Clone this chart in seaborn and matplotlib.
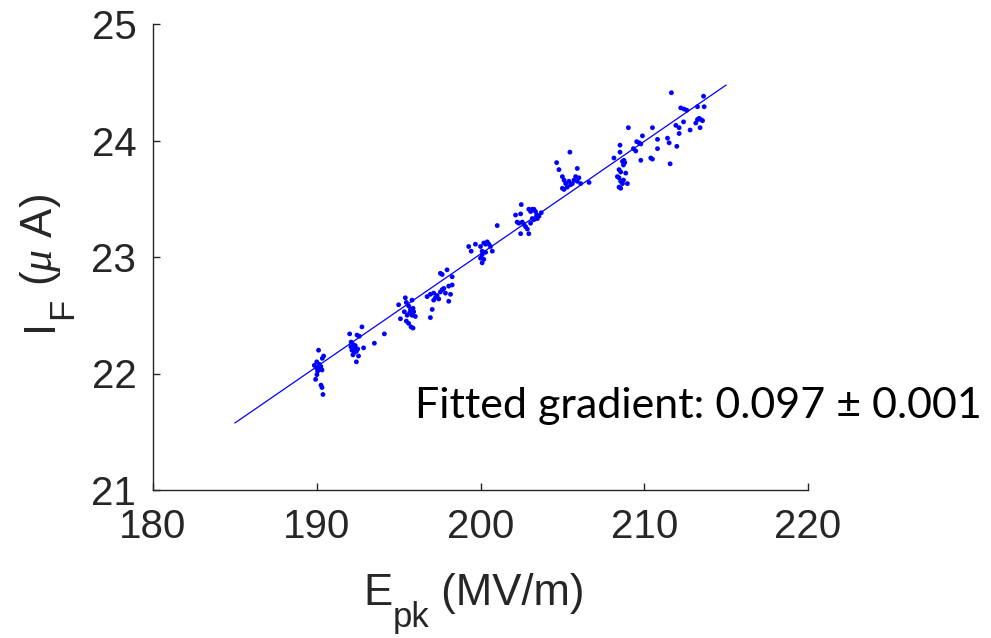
import numpy as np
import pandas as pd
import matplotlib
matplotlib.use("Agg")
import matplotlib.pyplot as plt
import seaborn as sns

# ---------------- data ----------------
E_pk = [
    # ~190
    190.11, 190.42, 190.34, 189.85, 189.97, 190.17, 190.32, 190.05, 190.01, 189.93,
    190.26, 190.32, 190.38, 190.15, 190.25, 190.00,
    # ~192.3
    192.01, 192.76, 192.46, 192.60, 192.09, 192.21, 192.29, 192.15, 192.42, 192.29,
    192.55, 192.42, 192.86, 193.52, 194.13, 192.21, 192.35, 192.50, 192.10,
    # ~195.7
    195.00, 195.41, 195.47, 195.82, 195.35, 195.61, 195.72, 195.88, 195.92, 195.67,
    195.52, 195.82, 196.02, 195.47, 195.61, 195.76, 195.88, 195.11, 197.05, 196.94,
    # ~197.5
    196.74, 196.94, 197.14, 197.25, 197.35, 197.45, 197.55, 197.66, 197.76, 197.86,
    198.06, 198.27, 198.17, 198.06, 197.55, 197.66, 197.96, 198.27, 197.14,
    # ~200.3
    199.28, 199.43, 199.69, 200.00, 200.10, 200.20, 200.31, 200.41, 200.51, 200.61,
    200.31, 200.10, 200.00, 200.20, 200.10, 200.72, 201.02,
    # ~202.8
    202.14, 202.45, 202.49, 202.24, 202.34, 202.55, 202.65, 202.75, 202.95, 203.06,
    203.16, 203.26, 203.36, 203.43, 203.16, 203.26, 203.47, 203.57, 203.71, 202.45,
    202.95, 203.06, 202.86,
    # ~205.5
    204.65, 204.79, 205.46, 205.00, 205.10, 205.20, 205.30, 205.00, 205.10, 205.40,
    205.50, 205.61, 205.71, 205.81, 205.91, 205.91, 206.01, 206.12, 206.63,
    # ~208.7
    208.15, 208.52, 208.52, 208.67, 208.76, 208.81, 208.73, 208.46, 208.56, 208.87,
    208.36, 208.46, 208.56, 208.67, 208.46, 208.56, 208.97, 208.73,
    # 209 - 214
    209.03, 209.34, 209.48, 209.54, 209.68, 209.79, 209.89, 209.79, 210.40, 210.50,
    210.50, 210.81, 210.81, 211.42, 211.52, 211.58, 211.66, 211.99, 211.93, 212.13,
    212.13, 212.40, 212.23, 212.43, 212.60, 212.80, 213.15, 213.25, 213.35, 213.46,
    213.56, 213.41, 213.25, 213.66, 213.62,
]
I_F = [
    22.20, 22.15, 22.13, 22.07, 22.05, 22.04, 22.03, 22.02, 21.99, 21.95,
    21.90, 21.88, 21.82, 22.08, 22.06, 22.10,
    22.34, 22.40, 22.33, 22.32, 22.23, 22.25, 22.22, 22.20, 22.19, 22.18,
    22.15, 22.10, 22.22, 22.26, 22.34, 22.16, 22.24, 22.21, 22.27,
    22.59, 22.65, 22.61, 22.63, 22.53, 22.58, 22.55, 22.56, 22.53, 22.52,
    22.50, 22.50, 22.49, 22.45, 22.43, 22.40, 22.39, 22.47, 22.55, 22.48,
    22.66, 22.68, 22.69, 22.65, 22.67, 22.64, 22.70, 22.72, 22.73, 22.69,
    22.75, 22.76, 22.68, 22.62, 22.86, 22.85, 22.89, 22.83, 22.63,
    23.09, 23.05, 23.11, 23.09, 23.05, 23.12, 23.11, 23.13, 23.11, 23.09,
    23.04, 23.02, 22.99, 22.98, 22.95, 23.05, 23.27,
    23.36, 23.37, 23.45, 23.30, 23.29, 23.30, 23.28, 23.26, 23.41, 23.39,
    23.41, 23.41, 23.39, 23.36, 23.33, 23.32, 23.33, 23.35, 23.38, 23.20,
    23.20, 23.29, 23.24,
    23.81, 23.75, 23.90, 23.69, 23.66, 23.63, 23.60, 23.59, 23.58, 23.65,
    23.62, 23.63, 23.66, 23.69, 23.76, 23.65, 23.68, 23.63, 23.64,
    23.85, 23.96, 23.90, 23.82, 23.83, 23.81, 23.79, 23.75, 23.73, 23.72,
    23.69, 23.68, 23.65, 23.63, 23.60, 23.59, 23.63, 23.66,
    24.11, 23.93, 23.91, 23.99, 23.98, 23.97, 24.04, 23.83, 23.85, 23.84,
    24.11, 24.01, 23.93, 24.02, 23.98, 23.80, 24.41, 23.95, 24.13, 24.11,
    24.06, 24.16, 24.28, 24.27, 24.26, 24.09, 24.15, 24.18, 24.19, 24.18,
    24.17, 24.11, 24.29, 24.29, 24.38,
]

# linear fit parameters (as shown)
fit_range = [185.0, 215.0]
fit_slope = 0.0967
fit_at_185 = 21.575

x_ticks = [180, 190, 200, 210, 220]
y_ticks = [21, 22, 23, 24, 25]
annotation = "Fitted gradient: 0.097 \u00b1 0.001"
xlabel_parts = ["E", "pk", " (MV/m)"]
ylabel_parts = ["I", "F", r" ($\mu$ A)"]

# ---------------- plotting ----------------
sns.set_theme(style="white")
plt.rcParams["font.family"] = ["Liberation Sans", "DejaVu Sans"]
plt.rcParams["mathtext.fontset"] = "custom"
plt.rcParams["mathtext.rm"] = "Liberation Sans"
plt.rcParams["mathtext.it"] = "Liberation Serif:italic"

W, H = 991, 638
fig = plt.figure(figsize=(W / 100, H / 100), dpi=100)
ax = fig.add_axes([153 / W, 1 - 490 / H, (808 - 153) / W, (490 - 24) / H])

df = pd.DataFrame({"E": E_pk, "I": I_F})
sns.scatterplot(data=df, x="E", y="I", ax=ax, color="#0000ff", s=12,
                linewidth=0, edgecolor="none")

fit_x = np.array(fit_range)
fit_df = pd.DataFrame({"E": fit_x, "I": fit_at_185 + fit_slope * (fit_x - fit_range[0])})
sns.lineplot(data=fit_df, x="E", y="I", ax=ax, color="#0000ff", linewidth=0.9)

ax.set_xlim(180, 220)
ax.set_ylim(21, 25)
ax.set_xticks(x_ticks)
ax.set_yticks(y_ticks)
ax.set_xticklabels([str(t) for t in x_ticks])
ax.set_yticklabels([str(t) for t in y_ticks])
ax.set_xlabel("")
ax.set_ylabel("")

dark = "#262626"
for side in ["top", "right"]:
    ax.spines[side].set_visible(False)
for side in ["left", "bottom"]:
    ax.spines[side].set_color(dark)
    ax.spines[side].set_linewidth(1.0)

ax.tick_params(axis="both", direction="in", length=5, width=1.0, color=dark,
               labelcolor=dark, labelsize=29)
ax.tick_params(axis="x", pad=13, bottom=True)
ax.tick_params(axis="y", pad=12, left=True)

renderer = fig.canvas.get_renderer()

# x label: E_pk (MV/m) with a MATLAB-like subscript
main_fs, sub_fs = 31.5, 25
x0, base = 363, 605
t = fig.text(x0 / W, 1 - base / H, xlabel_parts[0], fontsize=main_fs, color=dark,
             ha="left", va="baseline")
x = t.get_window_extent(renderer).x1
t = fig.text(x / W, 1 - (base + 22) / H, xlabel_parts[1], fontsize=sub_fs, color=dark,
             ha="left", va="baseline")
x = t.get_window_extent(renderer).x1
fig.text(x / W, 1 - base / H, xlabel_parts[2], fontsize=main_fs, color=dark,
         ha="left", va="baseline")

# y label: I_F (mu A), rotated
ybase_x, ystart = 52, 331
t = fig.text(ybase_x / W, 1 - ystart / H, ylabel_parts[0], fontsize=main_fs, color=dark,
             rotation=90, rotation_mode="anchor", ha="left", va="baseline")
y = t.get_window_extent(renderer).y1
t = fig.text((ybase_x + 20) / W, y / H, ylabel_parts[1], fontsize=sub_fs, color=dark,
             rotation=90, rotation_mode="anchor", ha="left", va="baseline")
y = t.get_window_extent(renderer).y1
fig.text(ybase_x / W, y / H, ylabel_parts[2], fontsize=main_fs, color=dark,
         rotation=90, rotation_mode="anchor", ha="left", va="baseline")

fig.text(415 / W, 1 - 418 / H, annotation, fontsize=31,
         family=["Lato", "DejaVu Sans"], color="black", va="baseline", ha="left")

fig.savefig("out.png", dpi=100)
